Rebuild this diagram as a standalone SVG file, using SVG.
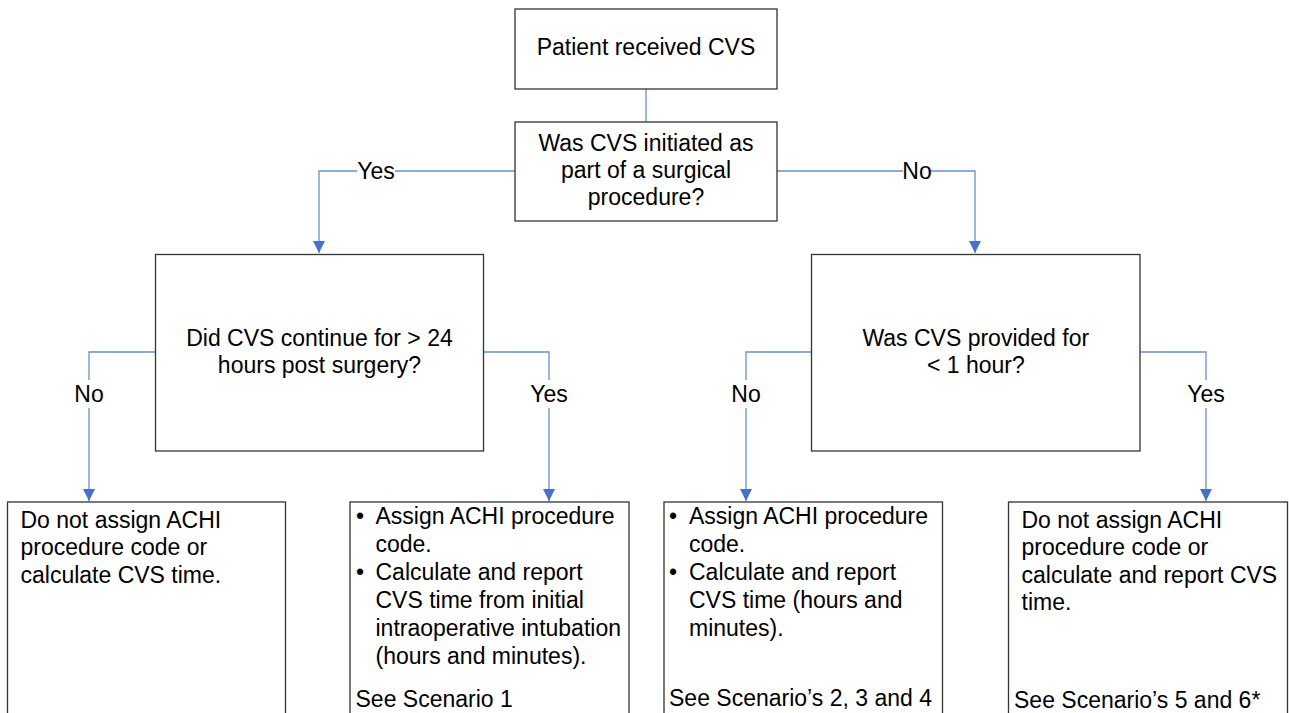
<svg xmlns="http://www.w3.org/2000/svg" width="1289" height="713" viewBox="0 0 1289 713">
<defs>
<style>
.box{fill:#fff;stroke:#333;stroke-width:1.3}
.t{font-family:"Liberation Sans",Arial,sans-serif;font-size:23px;fill:#000}
.c{text-anchor:middle}
.ln{fill:none;stroke:#6a8fcf;stroke-width:1.3}
.lbl{fill:#fff}
</style>
<marker id="ah" markerWidth="12" markerHeight="12" refX="10" refY="5" orient="auto" markerUnits="userSpaceOnUse" viewBox="0 0 10 10">
<path d="M0,0 L10,5 L0,10 Z" fill="#4472c4"/>
</marker>
</defs>
<g id="connectors">
<path class="ln" d="M646,89 V122"/>
<path class="ln" d="M515,171 H319 V253" marker-end="url(#ah)"/>
<path class="ln" d="M777,171 H975 V253" marker-end="url(#ah)"/>
<path class="ln" d="M155.5,352 H89 V501" marker-end="url(#ah)"/>
<path class="ln" d="M483.5,352 H549 V501" marker-end="url(#ah)"/>
<path class="ln" d="M811.5,352 H746 V501" marker-end="url(#ah)"/>
<path class="ln" d="M1140,352 H1206 V501" marker-end="url(#ah)"/>
<rect class="lbl" x="357" y="160" width="38" height="22"/>
<text class="t c" x="376" y="179">Yes</text>
<rect class="lbl" x="903" y="160" width="28" height="22"/>
<text class="t c" x="917" y="179">No</text>
<rect class="lbl" x="75" y="380" width="28" height="28"/>
<text class="t c" x="89" y="402">No</text>
<rect class="lbl" x="530" y="380" width="38" height="28"/>
<text class="t c" x="549" y="402">Yes</text>
<rect class="lbl" x="732" y="380" width="28" height="28"/>
<text class="t c" x="746" y="402">No</text>
<rect class="lbl" x="1187" y="380" width="38" height="28"/>
<text class="t c" x="1206" y="402">Yes</text>
</g>
<g id="start">
<rect class="box" x="515" y="9" width="262" height="80"/>
<text class="t c" x="646" y="55">Patient received CVS</text>
</g>
<g id="q1">
<rect class="box" x="515" y="122" width="262" height="99"/>
<text class="t c" x="646" y="151">Was CVS initiated as</text>
<text class="t c" x="646" y="178">part of a surgical</text>
<text class="t c" x="646" y="205">procedure?</text>
</g>
<g id="q2">
<rect class="box" x="155.5" y="254.5" width="328" height="196.5"/>
<text class="t c" x="319.5" y="346">Did CVS continue for &gt; 24</text>
<text class="t c" x="319.5" y="373">hours post surgery?</text>
</g>
<g id="q3">
<rect class="box" x="811.5" y="254.5" width="328.5" height="196.5"/>
<text class="t c" x="975.8" y="346">Was CVS provided for</text>
<text class="t c" x="975.8" y="373">&lt; 1 hour?</text>
</g>
<g id="r1">
<rect class="box" x="7.5" y="502" width="278" height="230"/>
<text class="t" x="20.5" y="527.5">Do not assign ACHI</text>
<text class="t" x="20.5" y="555">procedure code or</text>
<text class="t" x="20.5" y="582.5">calculate CVS time.</text>
</g>
<g id="r2">
<rect class="box" x="350" y="502" width="279" height="230"/>
<text class="t" x="356" y="524">•</text>
<text class="t" x="375.5" y="524">Assign ACHI procedure</text>
<text class="t" x="375.5" y="552">code.</text>
<text class="t" x="356" y="580">•</text>
<text class="t" x="375.5" y="580">Calculate and report</text>
<text class="t" x="375.5" y="608">CVS time from initial</text>
<text class="t" x="375.5" y="636">intraoperative intubation</text>
<text class="t" x="375.5" y="664">(hours and minutes).</text>
<text class="t" x="355.5" y="707">See Scenario 1</text>
</g>
<g id="r3">
<rect class="box" x="664" y="502" width="278.5" height="230"/>
<text class="t" x="669" y="524">•</text>
<text class="t" x="689" y="524">Assign ACHI procedure</text>
<text class="t" x="689" y="552">code.</text>
<text class="t" x="669" y="580">•</text>
<text class="t" x="689" y="580">Calculate and report</text>
<text class="t" x="689" y="608">CVS time (hours and</text>
<text class="t" x="689" y="636">minutes).</text>
<text class="t" x="669" y="706">See Scenario’s 2, 3 and 4</text>
</g>
<g id="r4">
<rect class="box" x="1008.5" y="502" width="279" height="230"/>
<text class="t" x="1021.5" y="527.5">Do not assign ACHI</text>
<text class="t" x="1021.5" y="555">procedure code or</text>
<text class="t" x="1021.5" y="582.5">calculate and report CVS</text>
<text class="t" x="1021.5" y="610">time.</text>
<text class="t" x="1014" y="707.5">See Scenario’s 5 and 6*</text>
</g>
</svg>
